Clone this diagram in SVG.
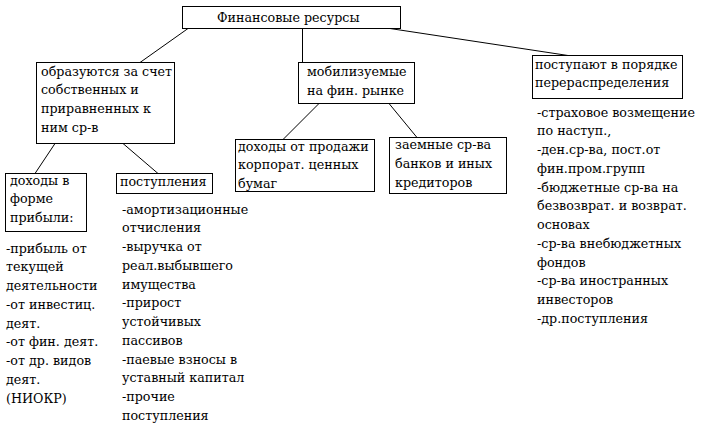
<svg xmlns="http://www.w3.org/2000/svg" width="701" height="440" viewBox="0 0 701 440">
<style>
rect{fill:#fff;stroke:#000;stroke-width:1}
line{stroke:#000;stroke-width:1}
text{font-family:"DejaVu Serif","Liberation Serif",serif;font-size:12.7px;fill:#000}
</style>
<rect x="0" y="0" width="701" height="440" style="stroke:none"/>
<g id="connectors">
<line x1="188" y1="28.5" x2="140" y2="62.5"/>
<line x1="302.5" y1="28.5" x2="302.5" y2="62.5"/>
<line x1="390" y1="28.5" x2="568" y2="55.5"/>
<line x1="319" y1="103.5" x2="283" y2="139.5"/>
<line x1="389" y1="103.5" x2="417" y2="137.5"/>
<line x1="55" y1="143.5" x2="35" y2="173.5"/>
<line x1="123" y1="143.5" x2="158" y2="173.5"/>
</g>
<g id="root">
<rect x="182.5" y="6.5" width="218" height="22"/>
<text x="217" y="22">Финансовые ресурсы</text>
</g>
<g id="own">
<rect x="36.5" y="62.5" width="138" height="81"/>
<text x="41" y="75.7">образуются за счет</text>
<text x="41" y="94.4">собственных и</text>
<text x="41" y="113.1">приравненных к</text>
<text x="41" y="131.8">ним ср-в</text>
</g>
<g id="market">
<rect x="298.5" y="62.5" width="116" height="41"/>
<text x="307" y="76">мобилизуемые</text>
<text x="307" y="94.5">на фин. рынке</text>
</g>
<g id="redistribution">
<rect x="532.5" y="55.5" width="150" height="43"/>
<text x="535" y="68.5">поступают в порядке</text>
<text x="535" y="87.2">перераспределения</text>
</g>
<g id="redistribution-list">
<text x="537" y="116.7">-страховое возмещение</text>
<text x="537" y="135.4">по наступ.,</text>
<text x="537" y="154.2">-ден.ср-ва, пост.от</text>
<text x="537" y="172.9">фин.пром.групп</text>
<text x="537" y="191.7">-бюджетные ср-ва на</text>
<text x="537" y="210.4">безвозврат. и возврат.</text>
<text x="537" y="229.2">основах</text>
<text x="537" y="247.9">-ср-ва внебюджетных</text>
<text x="537" y="266.7">фондов</text>
<text x="537" y="285.4">-ср-ва иностранных</text>
<text x="537" y="304.2">инвесторов</text>
<text x="537" y="322.9">-др.поступления</text>
</g>
<g id="securities">
<rect x="235.5" y="139.5" width="139" height="52"/>
<text x="238" y="150.8">доходы от продажи</text>
<text x="238" y="169.3">корпорат. ценных</text>
<text x="238" y="187.8">бумаг</text>
</g>
<g id="loans">
<rect x="389.5" y="137.5" width="117" height="56"/>
<text x="395" y="149">заемные ср-ва</text>
<text x="395" y="168">банков и иных</text>
<text x="395" y="187">кредиторов</text>
</g>
<g id="profit">
<rect x="5.5" y="173.5" width="81" height="58"/>
<text x="10" y="184.7">доходы в</text>
<text x="10" y="203.4">форме</text>
<text x="10" y="222.1">прибыли:</text>
</g>
<g id="profit-list">
<text x="6" y="252.5">-прибыль от</text>
<text x="6" y="271.2">текущей</text>
<text x="6" y="290">деятельности</text>
<text x="6" y="308.7">-от инвестиц.</text>
<text x="6" y="327.5">деят.</text>
<text x="6" y="346.2">-от фин. деят.</text>
<text x="6" y="365">-от др. видов</text>
<text x="6" y="383.7">деят.</text>
<text x="6" y="402.5">(НИОКР)</text>
</g>
<g id="receipts">
<rect x="116.5" y="173.5" width="96" height="20"/>
<text x="120" y="185.5">поступления</text>
</g>
<g id="receipts-list">
<text x="122" y="213.7">-амортизационные</text>
<text x="122" y="232.4">отчисления</text>
<text x="122" y="251.2">-выручка от</text>
<text x="122" y="269.9">реал.выбывшего</text>
<text x="122" y="288.7">имущества</text>
<text x="122" y="307.4">-прирост</text>
<text x="122" y="326.2">устойчивых</text>
<text x="122" y="344.9">пассивов</text>
<text x="122" y="363.7">-паевые взносы в</text>
<text x="122" y="382.4">уставный капитал</text>
<text x="122" y="401.2">-прочие</text>
<text x="122" y="419.9">поступления</text>
</g>
</svg>
